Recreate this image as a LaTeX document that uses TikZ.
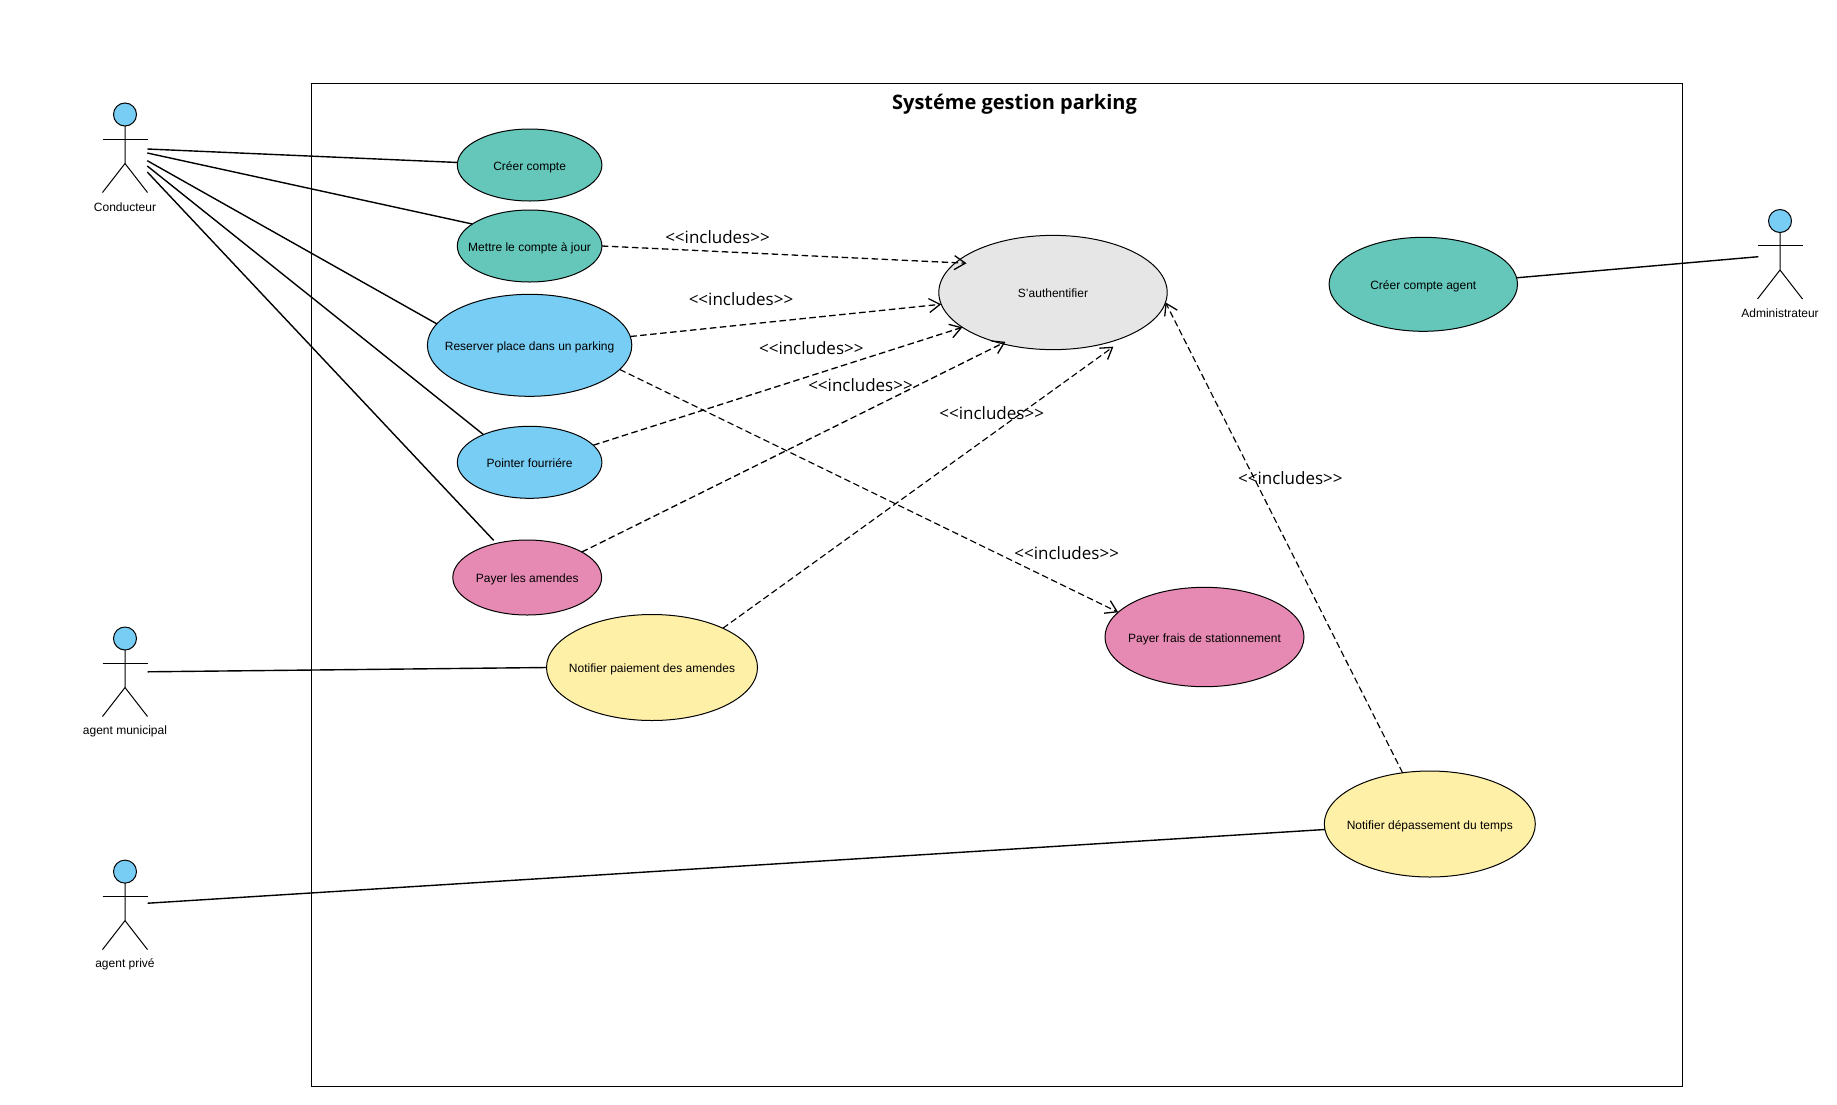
\documentclass[tikz,border=0pt]{standalone}
\usepackage{fontspec}
\usetikzlibrary{shapes.geometric,arrows.meta}
\setmainfont{Liberation Sans}
\newfontfamily\opensans{Open Sans}
\definecolor{caseteal}{HTML}{64C7BA}
\definecolor{caseblue}{HTML}{78CDF5}
\definecolor{casepink}{HTML}{E68AB3}
\definecolor{caseyellow}{HTML}{FFF0A8}
\definecolor{casegray}{HTML}{E6E6E6}
\newcommand\casetext[1]{\makebox[0pt]{\raisebox{-5.4pt}[0pt][0pt]{#1}}}
\tikzset{
  usecase/.style={draw,ellipse,inner sep=0pt,outer sep=0pt,line width=1pt,font=\fontsize{12}{14}\selectfont},
  actorhead/.style={draw,ellipse,fill=caseblue,inner sep=0pt,outer sep=0pt,minimum width=23pt,minimum height=23pt,line width=1pt},
  assoc/.style={line width=1.4pt},
  incl/.style={line width=1.3pt,dash pattern=on 6.5pt off 3.5pt,-{Straight Barb[length=11pt,width=14pt,line width=1.3pt]}},
  incllabel/.style={font=\opensans\fontsize{17}{20}\selectfont,inner sep=0pt},
  actorname/.style={font=\fontsize{12}{14}\selectfont,inner sep=0pt}
}
\begin{document}
\begin{tikzpicture}[x=1pt,y=-1pt]
\useasboundingbox (0,0) rectangle (1837,1104);
\node[draw,line width=1.1pt,inner sep=0pt,outer sep=0pt,minimum width=1371pt,minimum height=1003pt] (system) at (997,585) {};
\node[font=\opensans\bfseries\fontsize{20}{24}\selectfont,inner sep=0pt] (title) at (1014.5,104) {Systéme gestion parking};
% actors
\foreach \nm/\x/\y/\txt in {conducteur/125/114.5/Conducteur,municipal/125/638.5/agent municipal,prive/125/871.6/agent privé,admin/1780/221/Administrateur}{
  \node[actorhead] (\nm) at (\x,\y) {};
  \draw[line width=1pt] (\nm.south) -- ++(0,37.5) -- ++(-22.5,29);
  \draw[line width=1pt] (\nm.south) ++(0,37.5) -- ++(22.5,29);
  \draw[line width=1pt] (\nm.south) ++(-22.5,13) -- ++(45,0);
  \node[actorname] (\nm label) at (\x,\y+92.5) {\txt};
}
% use cases
\node[usecase,fill=caseteal,minimum width=144.6pt,minimum height=72pt] (creer) at (529.6,165) {\casetext{Créer compte}};
\node[usecase,fill=caseteal,minimum width=144.6pt,minimum height=72pt] (mettre) at (529.6,246) {\casetext{Mettre le compte à jour}};
\node[usecase,fill=caseblue,minimum width=204.4pt,minimum height=102pt] (reserver) at (529.6,345.3) {\casetext{Reserver place dans un parking}};
\node[usecase,fill=caseblue,minimum width=144.6pt,minimum height=72pt] (pointer) at (529.6,462.3) {\casetext{Pointer fourriére}};
\node[usecase,fill=casepink,minimum width=148.8pt,minimum height=75pt] (amendes) at (527.2,577.5) {\casetext{Payer les amendes}};
\node[usecase,fill=caseyellow,minimum width=211pt,minimum height=106pt] (paiement) at (652,667.5) {\casetext{Notifier paiement des amendes}};
\node[usecase,fill=casegray,minimum width=228.4pt,minimum height=114.3pt] (auth) at (1053,292.5) {\casetext{S'authentifier}};
\node[usecase,fill=caseteal,minimum width=188.4pt,minimum height=94pt] (agent) at (1423.3,284.3) {\casetext{Créer compte agent}};
\node[usecase,fill=casepink,minimum width=199pt,minimum height=99.4pt] (frais) at (1204.5,637) {\casetext{Payer frais de stationnement}};
\node[usecase,fill=caseyellow,minimum width=211pt,minimum height=106pt] (depassement) at (1429.8,824) {\casetext{Notifier dépassement du temps}};
% free ends
\coordinate (c1) at (147.3,149);
\coordinate (c2) at (147.3,153);
\coordinate (c3) at (147.3,160.7);
\coordinate (c4) at (147.3,166);
\coordinate (c5) at (147.3,172);
\coordinate (m1) at (147.6,671.8);
\coordinate (p1) at (147.6,903.2);
\coordinate (a1) at (1758.3,256.7);
\coordinate (authgap) at (1113.4,346.7);
% associations
\draw[assoc] (c1)--(creer.178);
\draw[assoc] (c2)--(mettre.159);
\draw[assoc] (c3)--(reserver.167.7);
\draw[assoc] (c4)--(pointer.149);
\draw[assoc,shorten >=4pt] (c5)--(amendes.132.5);
\draw[assoc] (m1)--(paiement.180.7);
\draw[assoc] (p1)--(depassement.183.8);
\draw[assoc] (a1)--(agent.4.9);
% includes
\draw[incl,shorten >=-11pt] (mettre.east)--(auth.163.4);
\draw[incl] (reserver.5.8)--(auth.186.9);
\draw[incl] (pointer.15.4)--(auth.201.2);
\draw[incl,shorten >=-4pt] (amendes.25.3)--(auth.225);
\draw[incl,line width=1.15pt] (paiement.29.5)--(authgap);
\draw[incl,line width=1.15pt] (reserver.-15.3)--(frais.164.7);
\draw[incl,line width=1.15pt] (depassement.118)--(auth.-5.1);
\node[incllabel] (l1) at (717.5,237) {<<includes>>};
\node[incllabel] (l2) at (741,299) {<<includes>>};
\node[incllabel] (l3) at (811.3,348) {<<includes>>};
\node[incllabel] (l4) at (860.5,385.4) {<<includes>>};
\node[incllabel] (l5) at (991.7,413) {<<includes>>};
\node[incllabel] (l6) at (1290.4,478) {<<includes>>};
\node[incllabel] (l7) at (1066.7,553) {<<includes>>};
\end{tikzpicture}
\end{document}
